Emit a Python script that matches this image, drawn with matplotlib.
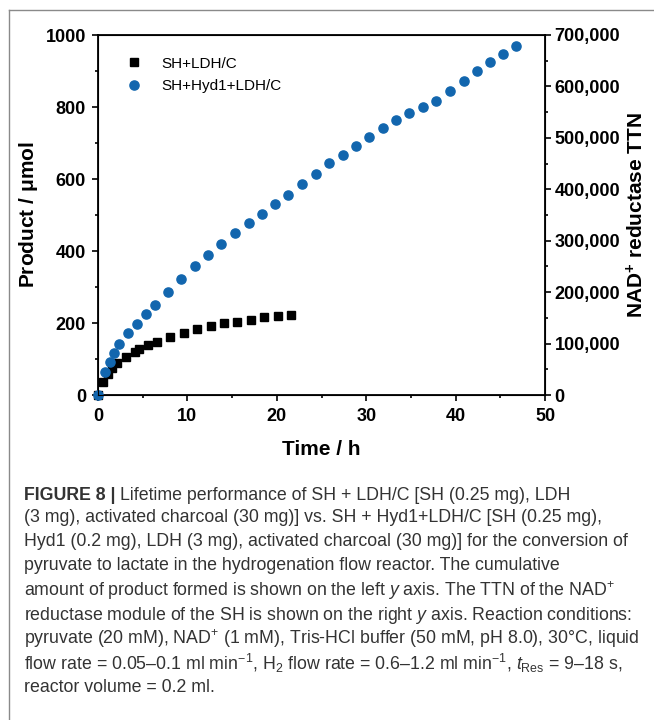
import matplotlib
matplotlib.use("Agg")
from matplotlib import pyplot as plt
from matplotlib.lines import Line2D
from matplotlib.ticker import MultipleLocator, FuncFormatter

plt.rcParams['font.family'] = ['Liberation Sans', 'DejaVu Sans']
plt.rcParams['mathtext.fontset'] = 'custom'
plt.rcParams['mathtext.rm'] = 'Liberation Sans'
plt.rcParams['mathtext.it'] = 'Liberation Sans:italic'
plt.rcParams['mathtext.bf'] = 'Liberation Sans:bold'

# SH+LDH/C, product (umol) vs time (h)
sh_ldh_time = [0.0, 0.6, 1.15, 1.6, 2.1, 3.1, 4.1, 4.6, 5.6, 6.6, 8.1, 9.6,
               11.1, 12.6, 14.1, 15.6, 17.1, 18.6, 20.1, 21.6]
sh_ldh_product = [0, 37, 58, 74, 88, 106, 120, 128, 139, 147, 160, 171,
                  183, 193, 199, 204, 209, 216, 219, 222]

# SH+Hyd1+LDH/C
hyd_time = [0.0, 0.8, 1.3, 1.8, 2.3, 3.3, 4.35, 5.35, 6.35, 7.8, 9.3, 10.85,
            12.3, 13.8, 15.3, 16.85, 18.3, 19.8, 21.3, 22.8, 24.35, 25.85,
            27.4, 28.9, 30.35, 31.85, 33.3, 34.8, 36.3, 37.8, 39.4, 40.9,
            42.4, 43.8, 45.3, 46.8]
hyd_product = [0, 65, 93, 118, 142, 173, 198, 225, 251, 287, 322, 357,
               388, 419, 451, 478, 504, 530, 556, 585, 615, 644,
               667, 692, 717, 741, 764, 782, 800, 818, 845, 873,
               901, 924, 947, 970]

series_names = ['SH+LDH/C', 'SH+Hyd1+LDH/C']
ttn_max = 700000
blue = '#1266ae'

caption_lines = [
    r'Lifetime performance of SH + LDH/C [SH (0.25 mg), LDH',
    r'(3 mg), activated charcoal (30 mg)] vs. SH + Hyd1+LDH/C [SH (0.25 mg),',
    r'Hyd1 (0.2 mg), LDH (3 mg), activated charcoal (30 mg)] for the conversion of',
    r'pyruvate to lactate in the hydrogenation flow reactor. The cumulative',
    r'amount of product formed is shown on the left $\it{y}$ axis. The TTN of the NAD$^{+}$',
    r'reductase module of the SH is shown on the right $\it{y}$ axis. Reaction conditions:',
    r'pyruvate (20 mM), NAD$^{+}$ (1 mM), Tris-HCl buffer (50 mM, pH 8.0), 30°C, liquid',
    r'flow rate = 0.05–0.1 ml min$^{-1}$, H$_{2}$ flow rate = 0.6–1.2 ml min$^{-1}$, $\it{t}_{\rm{Res}}$ = 9–18 s,',
    r'reactor volume = 0.2 ml.',
]

W, H = 654, 720
fig = plt.figure(figsize=(W / 100, H / 100), dpi=100)

# axes box in pixel coords: left 98, right 545, top 35, bottom 395
ax = fig.add_axes([98 / W, 1 - 395 / H, 447 / W, 360 / H])
ax.plot(sh_ldh_time, sh_ldh_product, 's', color='black', ms=5.8,
        label=series_names[0], zorder=3, clip_on=False)
ax.plot(hyd_time, hyd_product, 'o', color=blue, ms=6.6,
        label=series_names[1], zorder=4, clip_on=False)

ax.set_xlim(0, 50)
ax.set_ylim(0, 1000)
ax.xaxis.set_major_locator(MultipleLocator(10))
ax.xaxis.set_minor_locator(MultipleLocator(5))
ax.yaxis.set_major_locator(MultipleLocator(200))
ax.yaxis.set_minor_locator(MultipleLocator(100))
ax.tick_params(which='both', direction='out', width=1.2, labelsize=13,
               top=False, right=False)
ax.tick_params(which='major', length=4.3, pad=4.3)
ax.tick_params(axis='x', which='major', pad=5)
ax.tick_params(which='minor', length=2.5)
for lab in ax.get_xticklabels() + ax.get_yticklabels():
    lab.set_fontweight('bold')
for sp in ax.spines.values():
    sp.set_linewidth(1.3)
ax.set_xlabel('Time / h', fontsize=15, fontweight='bold', labelpad=11)
ax.set_ylabel(r'Product / $\mathbf{\mu}$mol', fontsize=15, fontweight='bold',
              labelpad=4)

ax2 = ax.twinx()
ax2.set_ylim(0, ttn_max)
ax2.yaxis.set_major_locator(MultipleLocator(100000))
ax2.yaxis.set_minor_locator(MultipleLocator(50000))
ax2.yaxis.set_major_formatter(FuncFormatter(lambda v, p: f'{int(v):,}'))
ax2.tick_params(which='both', direction='out', width=1.2, labelsize=13)
ax2.tick_params(which='major', length=4.3, pad=2.5)
ax2.tick_params(which='minor', length=2.5)
for lab in ax2.get_yticklabels():
    lab.set_fontweight('bold')
ax2.set_ylabel(r'NAD$^{\mathbf{+}}$ reductase TTN', fontsize=15,
               fontweight='bold', labelpad=4)

leg = ax.legend(loc='upper left', frameon=False, fontsize=11,
                bbox_to_anchor=(0.025, 0.965), handletextpad=0.8,
                labelspacing=0.55, borderaxespad=0.2)

# outer frame of the figure panel
fig.add_artist(Line2D([9 / W, 9 / W], [0, 1 - 10 / H], color='#8a8a8a', lw=1.0))
fig.add_artist(Line2D([9 / W, 1], [1 - 10 / H, 1 - 10 / H], color='#8a8a8a', lw=1.0))

# caption
x0 = 24 / W
line_y = [495, 518, 542, 566, 591, 615, 639, 663, 687]
cap_kw = dict(fontsize=12.8, color='#333333', va='center', ha='left')
t = fig.text(x0, 1 - line_y[0] / H, 'FIGURE 8 | ', fontweight='bold',
             **cap_kw)
fig.canvas.draw()
bb = t.get_window_extent()
fig.text(bb.x1 / W, 1 - line_y[0] / H, caption_lines[0], **cap_kw)
for yy, line in zip(line_y[1:], caption_lines[1:]):
    fig.text(x0, 1 - yy / H, line, **cap_kw)

fig.savefig('out.png', dpi=100)
